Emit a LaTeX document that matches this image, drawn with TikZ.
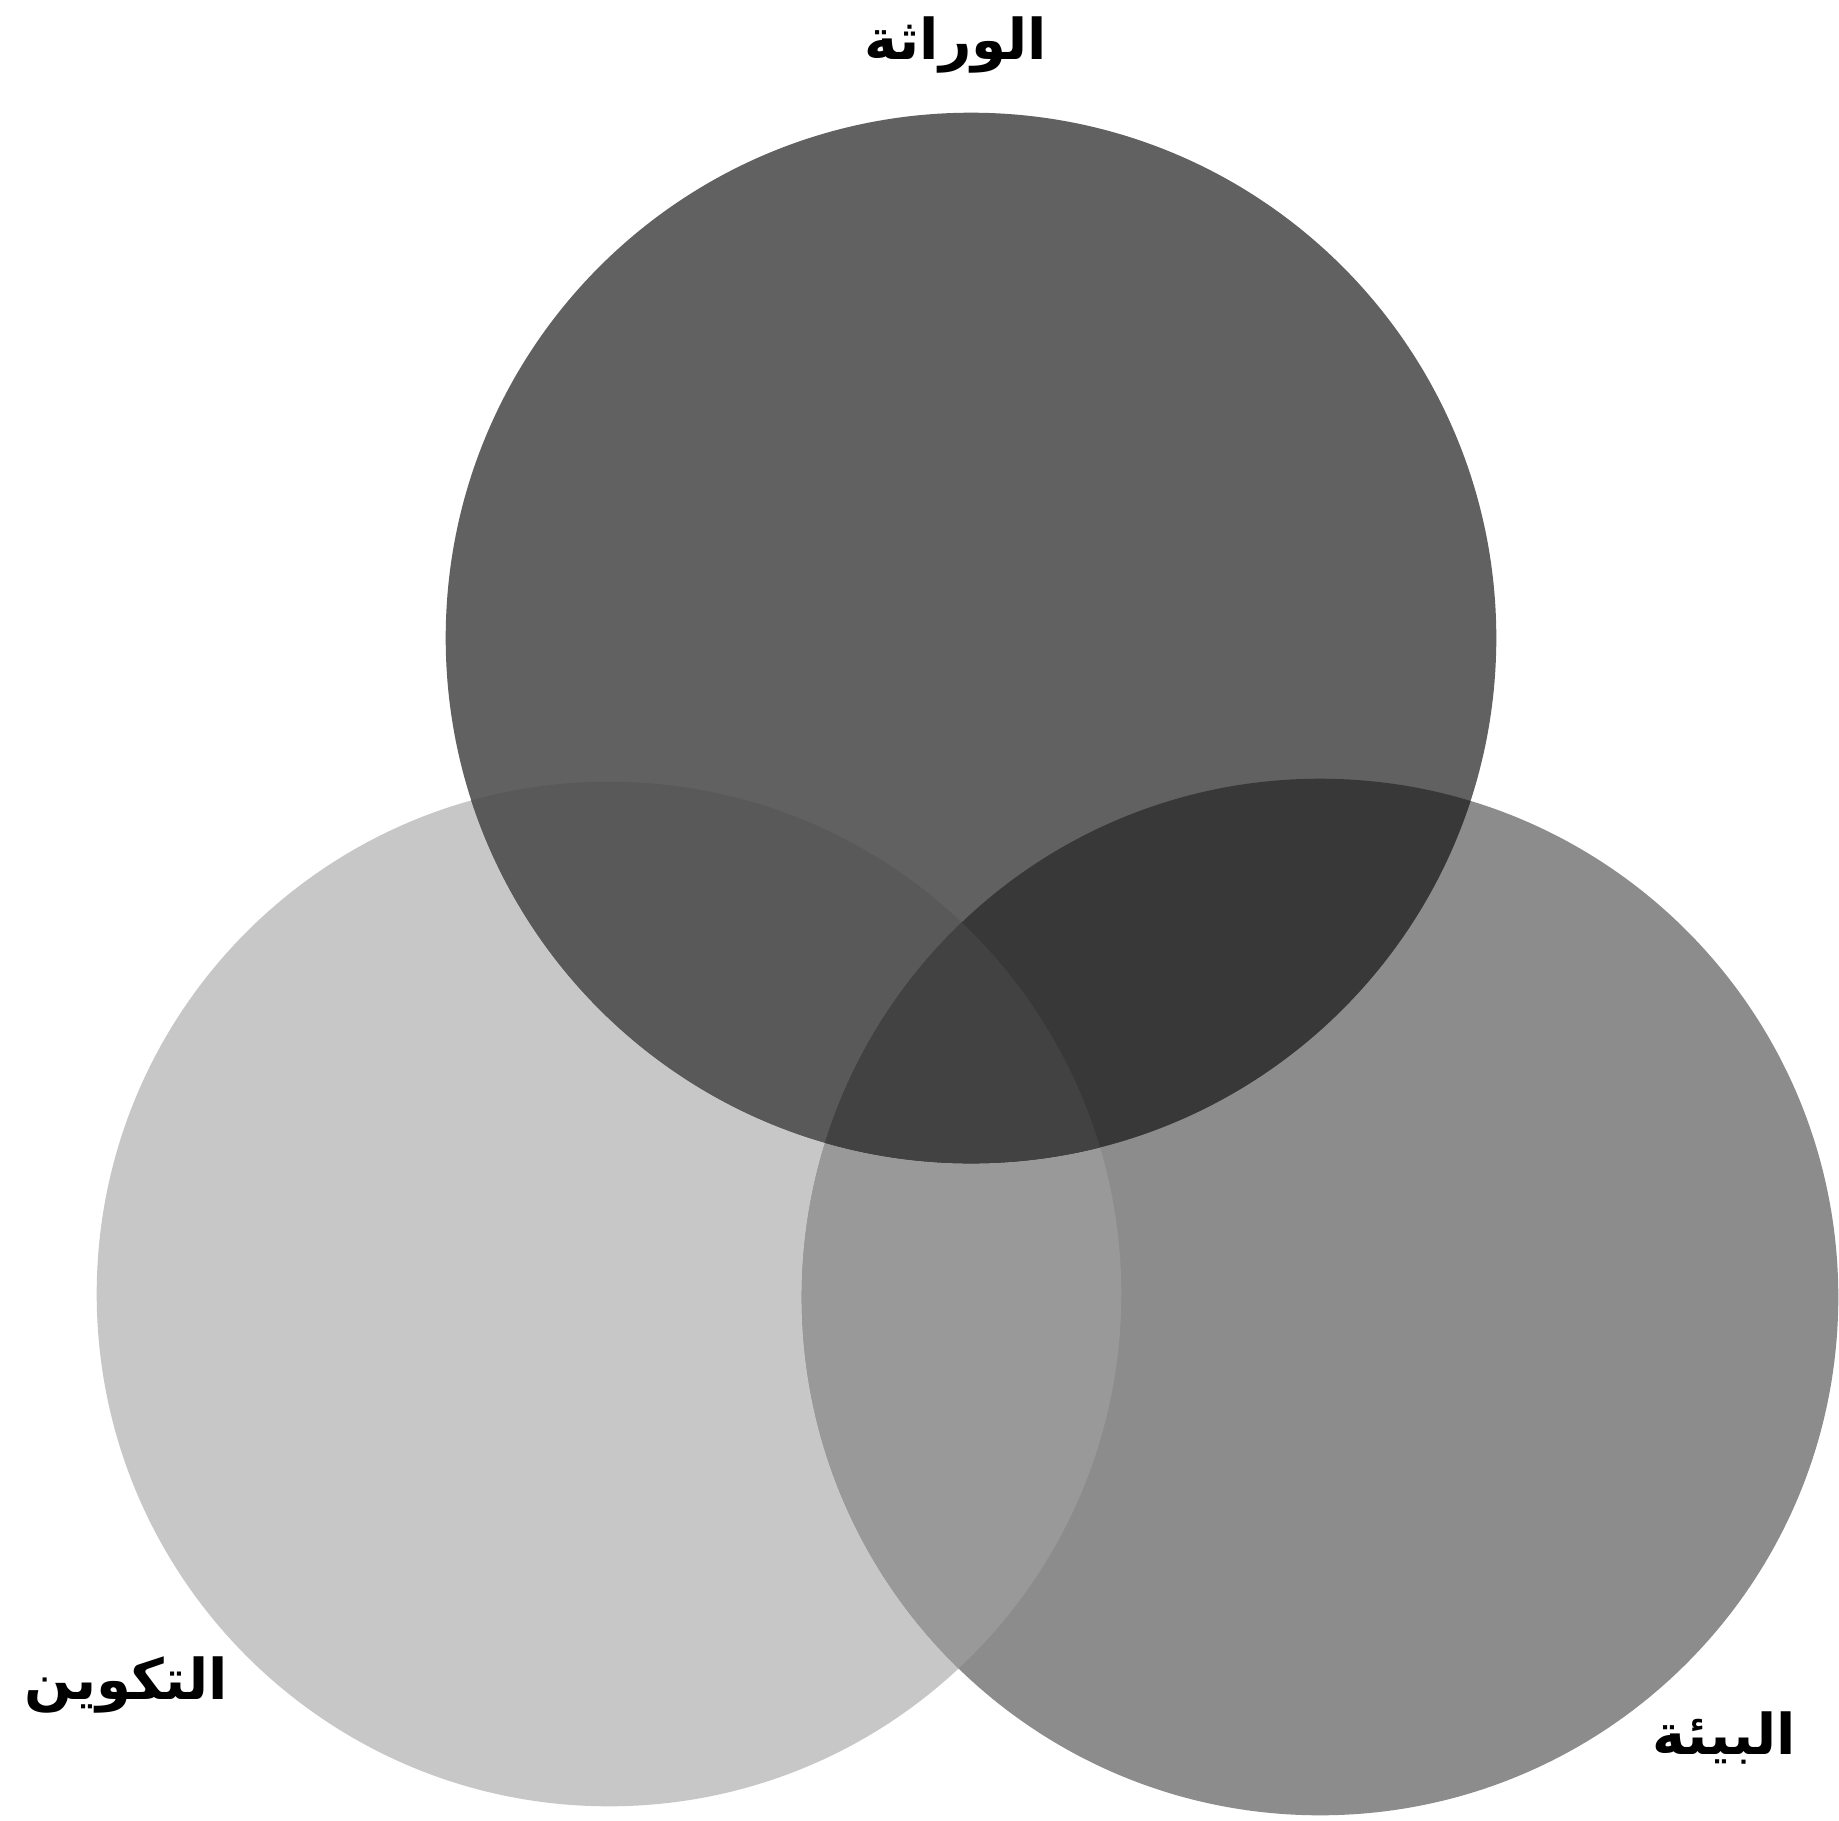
\documentclass[tikz,border=0pt]{standalone}
\usepackage{fontspec}
\TeXXeTstate=1
\newfontfamily\arabicfont[Script=Arabic]{DejaVu Sans}
\begin{document}
\begin{tikzpicture}[x=0.01cm,y=-0.01cm,
  lbl/.style={inner sep=0pt,font=\arabicfont\bfseries\fontsize{16}{19}\selectfont},
  fT/.style={fill=black!62},
  fL/.style={fill=black!22},
  fR/.style={fill=black!45},
  fTL/.style={fill=black!65},
  fTR/.style={fill=black!78},
  fLR/.style={fill=black!40},
  fTLR/.style={fill=black!74}]
\useasboundingbox (0,0) rectangle (1839,1821);
\fill[white] (0,0) rectangle (1839,1821);
\coordinate (T) at (971,638);
\coordinate (L) at (609,1294);
\coordinate (R) at (1320,1297);
\def\rT{5.25cm}\def\rL{5.12cm}\def\rR{5.18cm}
\fill[fL] (L) circle (\rL);
\fill[fR] (R) circle (\rR);
\fill[fT] (T) circle (\rT);
\begin{scope}
  \clip (L) circle (\rL);
  \fill[fLR] (R) circle (\rR);
\end{scope}
\begin{scope}
  \clip (T) circle (\rT);
  \fill[fTL] (L) circle (\rL);
  \fill[fTR] (R) circle (\rR);
  \clip (L) circle (\rL);
  \fill[fTLR] (R) circle (\rR);
\end{scope}
\node[lbl] (ht) at (956,45) {\beginR الوراثة\endR};
\node[lbl] (hl) at (126,1685) {\beginR التكوين\endR};
\node[lbl] (hr) at (1724,1738) {\beginR البيئة\endR};
\end{tikzpicture}
\end{document}
